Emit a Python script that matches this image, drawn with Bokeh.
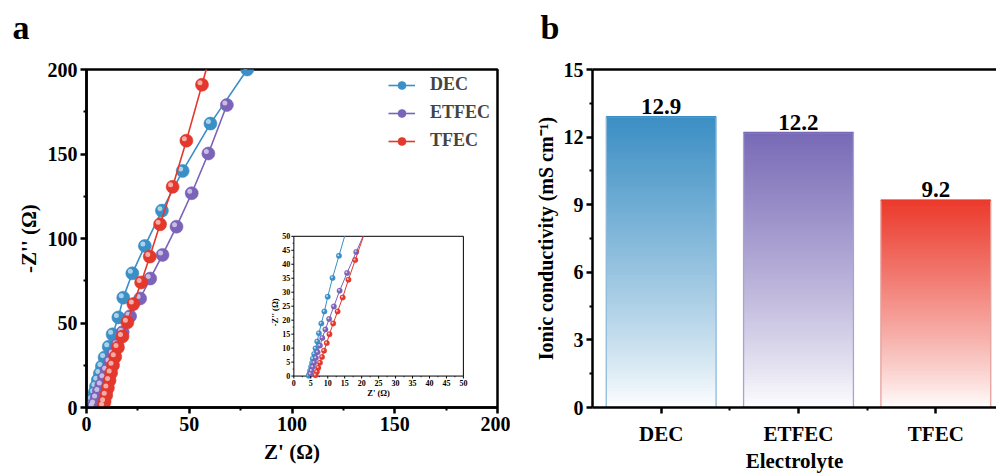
import numpy as np
from bokeh.plotting import figure
from bokeh.layouts import row, column
from bokeh.models import Range1d, FixedTicker, Legend, LegendItem, LinearAxis
from bokeh.embed import file_html
from bokeh.resources import INLINE
from bokeh.core.properties import value

FONT = "Liberation Serif"

# ---------------- data: panel a (Nyquist) ----------------
series_names = ["DEC", "ETFEC", "TFEC"]
series_colors = ["#3a8fc6", "#7a63b8", "#e3382b"]

dec_x = [78.2, 60.3, 46.8, 36.7, 28.4, 22.3, 17.9, 15.5, 12.7, 10.8, 8.8, 7.5, 6.5, 5.5, 4.6, 3.9, 2.9, 2.0, 1.5]
dec_y = [200, 168, 140, 116.5, 95.6, 79.4, 65, 53.3, 43.3, 36, 29.6, 24.3, 20.1, 16.2, 12.4, 8.7, 4.6, 1.3, 0.3]
etfec_x = [68.3, 59.3, 51.2, 43.8, 37.0, 31.0, 26.1, 21.2, 17.6, 15.0, 13.0, 11.4, 9.8, 8.5, 7.2, 6.0, 4.9, 3.9, 3.3]
etfec_y = [179, 150.3, 126.8, 107, 90.3, 76.3, 64.5, 54, 44.6, 37.1, 31.7, 26.9, 22, 17.6, 13.3, 9.5, 5.6, 2.1, 0.4]
tfec_x = [65.4, 56.2, 48.6, 41.9, 35.8, 30.8, 26.6, 22.8, 19.9, 17.5, 15.3, 14.0, 12.9, 12.0, 11.2, 10.4, 9.6, 8.8, 8.3]
tfec_y = [231, 191, 157.9, 130.6, 108.4, 89.3, 74, 61.2, 50.4, 42, 35.5, 30, 25, 20.5, 16, 11.5, 7.3, 3.5, 0.8]

# inset (zoom of the high-frequency region)
ins_dec_x = [13.3, 11.4, 10.0, 9.0, 8.1, 7.4, 6.9, 6.4, 6.0, 5.6, 5.4, 5.1, 4.8, 4.6, 4.4]
ins_dec_y = [43, 35.1, 28.4, 23.1, 18.8, 15.3, 12.4, 9.9, 7.9, 6.2, 4.7, 3.3, 1.9, 0.75, 0.1]
ins_etfec_x = [18.4, 15.7, 13.5, 11.8, 10.4, 9.3, 8.4, 7.7, 7.0, 6.5, 6.0, 5.6, 5.2, 4.9]
ins_etfec_y = [44.4, 36.9, 30.5, 24.9, 20.4, 16.7, 13.6, 10.9, 8.5, 6.5, 4.8, 3.3, 1.9, 0.75]
ins_tfec_x = [18.1, 16.1, 14.4, 12.9, 11.6, 10.5, 9.7, 8.9, 8.3, 7.7, 7.2, 6.8, 6.4]
ins_tfec_y = [41.5, 34.5, 28.1, 23.1, 18.8, 15.0, 11.8, 9.1, 6.8, 4.8, 3.0, 1.5, 0.3]

a_ticks = [0, 50, 100, 150, 200]
a_minor = [25, 75, 125, 175]
ins_ticks = [0, 5, 10, 15, 20, 25, 30, 35, 40, 45, 50]

# ---------------- data: panel b (conductivity) ----------------
categories = ["DEC", "ETFEC", "TFEC"]
conductivity = [12.9, 12.2, 9.2]
bar_colors = ["#3b8ec4", "#786ab6", "#eb3a2c"]
bar_edges = ["#8dbad9", "#aaa2cf", "#e6a09c"]
b_ticks = [0, 3, 6, 9, 12, 15]

panel_letters = ["a", "b"]

STRIP_H = 48  # height of the strip that carries the panel letters


def hex2rgb(h):
    h = h.lstrip("#")
    return tuple(int(h[i:i + 2], 16) for i in (0, 2, 4))


def mix_white(c, t):
    r, g, b = hex2rgb(c)
    return "#%02x%02x%02x" % tuple(int(round(255 + (v - 255) * t)) for v in (r, g, b))


def style_axis(ax, lab=20, axl=21):
    ax.axis_line_width = 2.5
    ax.major_tick_line_width = 2.5
    ax.minor_tick_line_width = 2
    ax.major_tick_out = 6
    ax.major_tick_in = 0
    ax.minor_tick_out = 3
    ax.minor_tick_in = 0
    ax.major_label_text_font = FONT
    ax.major_label_text_font_style = "bold"
    ax.major_label_text_font_size = f"{lab}px"
    ax.major_label_text_color = "black"
    ax.axis_label_text_font = FONT
    ax.axis_label_text_font_style = "bold"
    ax.axis_label_text_font_size = f"{axl}px"
    ax.axis_label_text_color = "black"
    ax.major_label_standoff = 3
    ax.axis_label_standoff = 4


# ================= letter strip =================
strip = figure(width=996, height=STRIP_H, x_range=Range1d(0, 996), y_range=Range1d(0, STRIP_H),
               output_backend="svg", toolbar_location=None,
               min_border_left=0, min_border_right=0, min_border_top=0, min_border_bottom=0)
strip.axis.visible = False
strip.grid.visible = False
strip.outline_line_color = None
strip.text(x=[12, 540], y=[STRIP_H - 27, STRIP_H - 27], text=panel_letters, text_align="left",
           text_baseline="alphabetic", text_font=value(FONT), text_font_style="bold",
           text_font_size="34px", text_color="black")

# ================= panel a =================
pa = figure(width=510, height=475 - STRIP_H, x_range=Range1d(0, 200), y_range=Range1d(0, 200),
            output_backend="svg", toolbar_location=None,
            min_border_left=86, min_border_right=13, min_border_top=68 - STRIP_H, min_border_bottom=62)
pa.grid.visible = False
pa.outline_line_color = "black"
pa.outline_line_width = 2.5
pa.xaxis.ticker = FixedTicker(ticks=a_ticks, minor_ticks=a_minor)
pa.yaxis.ticker = FixedTicker(ticks=a_ticks, minor_ticks=a_minor)
pa.xaxis.axis_label = "Z' (Ω)"
pa.yaxis.axis_label = "-Z'' (Ω)"
style_axis(pa.xaxis[0])
style_axis(pa.yaxis[0])
pa.xaxis.axis_label_standoff = 6

# px per data unit in panel a (frame 411 x 345 px)
PXX = 411 / 200.0
PXY = 345 / 200.0

main_sets = [(dec_x, dec_y), (etfec_x, etfec_y), (tfec_x, tfec_y)]
legend_items = []
for (xs, ys), name, col in zip(main_sets, series_names, series_colors):
    ln = pa.line(xs, ys, line_color=col, line_width=1.6)
    sc = pa.scatter(xs, ys, size=13, fill_color=col, line_color=col, line_width=0.6)
    hx = [x - 2.0 / PXX for x in xs]
    hy = [y + 2.0 / PXY for y in ys]
    pa.scatter(hx, hy, size=5, fill_color=mix_white(col, 0.35), line_color=None, fill_alpha=0.9)
    legend_items.append(LegendItem(label=name, renderers=[ln, sc]))

leg = Legend(items=legend_items, location=(302, 256), border_line_color=None,
             background_fill_alpha=0, label_text_font=FONT, label_text_font_style="bold",
             label_text_font_size="18px", glyph_width=27, glyph_height=20, label_height=20,
             label_standoff=15, spacing=7, padding=0, margin=0)
pa.add_layout(leg)

# ---- inset ----
ins_x_target = Range1d(100.9, 183.4)
ins_y_target = Range1d(18.6, 101.3)
sub = pa.subplot(x_source=Range1d(0, 50), y_source=Range1d(0, 50),
                 x_target=ins_x_target, y_target=ins_y_target)
IPX = (183.4 - 100.9) * PXX / 50.0
IPY = (101.3 - 18.6) * PXY / 50.0

sub.quad(left=[0], right=[50], bottom=[0], top=[50], fill_color="white", line_color="black", line_width=1)

ins_sets = [(ins_dec_x, ins_dec_y), (ins_etfec_x, ins_etfec_y), (ins_tfec_x, ins_tfec_y)]
for (xs, ys), col in zip(ins_sets, series_colors):
    # extend first segment to the inset's top edge (clipping at y = 50)
    slope = (xs[0] - xs[1]) / (ys[0] - ys[1])
    x_top = xs[0] + (50 - ys[0]) * slope
    sub.line([x_top] + list(xs), [50] + list(ys), line_color=col, line_width=1)
    sub.scatter(xs, ys, size=5.5, fill_color=col, line_color=col, line_width=0.3)
    sub.scatter([x - 0.7 / IPX for x in xs], [y + 0.7 / IPY for y in ys], size=2,
                fill_color=mix_white(col, 0.3), line_color=None)

# inset ticks
tick_len_x = 2.5 / IPY
tick_len_y = 2.5 / IPX
minor_vals = [t + 2.5 for t in ins_ticks[:-1]]
sub.segment(x0=ins_ticks, y0=[0] * len(ins_ticks), x1=ins_ticks, y1=[-tick_len_x] * len(ins_ticks),
            line_color="black", line_width=1)
sub.segment(x0=[0] * len(ins_ticks), y0=ins_ticks, x1=[-tick_len_y] * len(ins_ticks), y1=ins_ticks,
            line_color="black", line_width=1)
sub.segment(x0=minor_vals, y0=[0] * len(minor_vals), x1=minor_vals, y1=[-tick_len_x * 0.5] * len(minor_vals),
            line_color="black", line_width=0.8)
sub.segment(x0=[0] * len(minor_vals), y0=minor_vals, x1=[-tick_len_y * 0.5] * len(minor_vals), y1=minor_vals,
            line_color="black", line_width=0.8)
sub.text(x=ins_ticks, y=[0] * len(ins_ticks), text=[str(t) for t in ins_ticks], text_align="center",
         text_baseline="top", y_offset=3.5, text_font=value(FONT), text_font_style="bold",
         text_font_size="8px", text_color="black")
sub.text(x=[0] * len(ins_ticks), y=ins_ticks, text=[str(t) for t in ins_ticks], text_align="right",
         text_baseline="middle", x_offset=-3.5, text_font=value(FONT), text_font_style="bold",
         text_font_size="8px", text_color="black")
sub.text(x=[25], y=[0], text=["Z' (Ω)"], text_align="center", text_baseline="top", y_offset=12,
         text_font=value(FONT), text_font_style="bold", text_font_size="8.5px", text_color="black")
sub.text(x=[0], y=[22.8], text=["-Z'' (Ω)"], text_align="center", text_baseline="bottom", x_offset=-14,
         angle=np.pi / 2, text_font=value(FONT), text_font_style="bold", text_font_size="8.5px",
         text_color="black")

# ================= panel b =================
ncat = len(categories)
pb = figure(width=486, height=475 - STRIP_H, x_range=Range1d(0, ncat * 0.9806), y_range=Range1d(0, 15),
            output_backend="svg", toolbar_location=None,
            min_border_left=82, min_border_right=0, min_border_top=69 - STRIP_H, min_border_bottom=59)
pb.grid.visible = False
pb.outline_line_color = None
centers = [i + 0.5 for i in range(ncat)]
pb.xaxis.ticker = FixedTicker(ticks=centers, minor_ticks=[i for i in range(1, ncat)])
pb.xaxis.major_label_overrides = {c: n for c, n in zip(centers, categories)}
pb.yaxis.ticker = FixedTicker(ticks=b_ticks, minor_ticks=[t + 1.5 for t in b_ticks[:-1]])
pb.xaxis.axis_label = "Electrolyte"
pb.yaxis.axis_label = "Ionic conductivity (mS cm⁻¹)"
style_axis(pb.xaxis[0], lab=21, axl=21)
style_axis(pb.yaxis[0], lab=20, axl=20)
pb.xaxis.major_label_standoff = 8
pb.xaxis.axis_label_standoff = 0

top_ax = LinearAxis(axis_line_width=2.5, major_tick_line_color=None, minor_tick_line_color=None,
                    major_label_text_font_size="0px", major_label_text_color=None,
                    major_label_standoff=0)
pb.add_layout(top_ax, "above")

N = 90
half_w = 0.4
for c, v, col, edge in zip(centers, conductivity, bar_colors, bar_edges):
    ys = np.linspace(0, v, N + 1)
    step = v / N
    cols = [mix_white(col, ((k + 0.5) / N) ** 0.85) for k in range(N)]
    pb.quad(left=c - half_w, right=c + half_w, bottom=ys[:-1], top=np.minimum(ys[1:] + 0.6 * step, v),
            fill_color=cols, line_color=None)
    pb.quad(left=[c - half_w], right=[c + half_w], bottom=[0], top=[v], fill_color=None,
            line_color=edge, line_width=1.3)
    pb.segment(x0=[c - half_w], y0=[v], x1=[c + half_w], y1=[v], line_color=col, line_width=1.5)

pb.text(x=centers, y=conductivity, text=[f"{v:.1f}" for v in conductivity], text_align="center",
        text_baseline="bottom", y_offset=-3, text_font=value(FONT), text_font_style="bold",
        text_font_size="23px", text_color="black")

layout = column(strip, row(pa, pb))
open("out.html", "w").write(file_html(layout, INLINE))
